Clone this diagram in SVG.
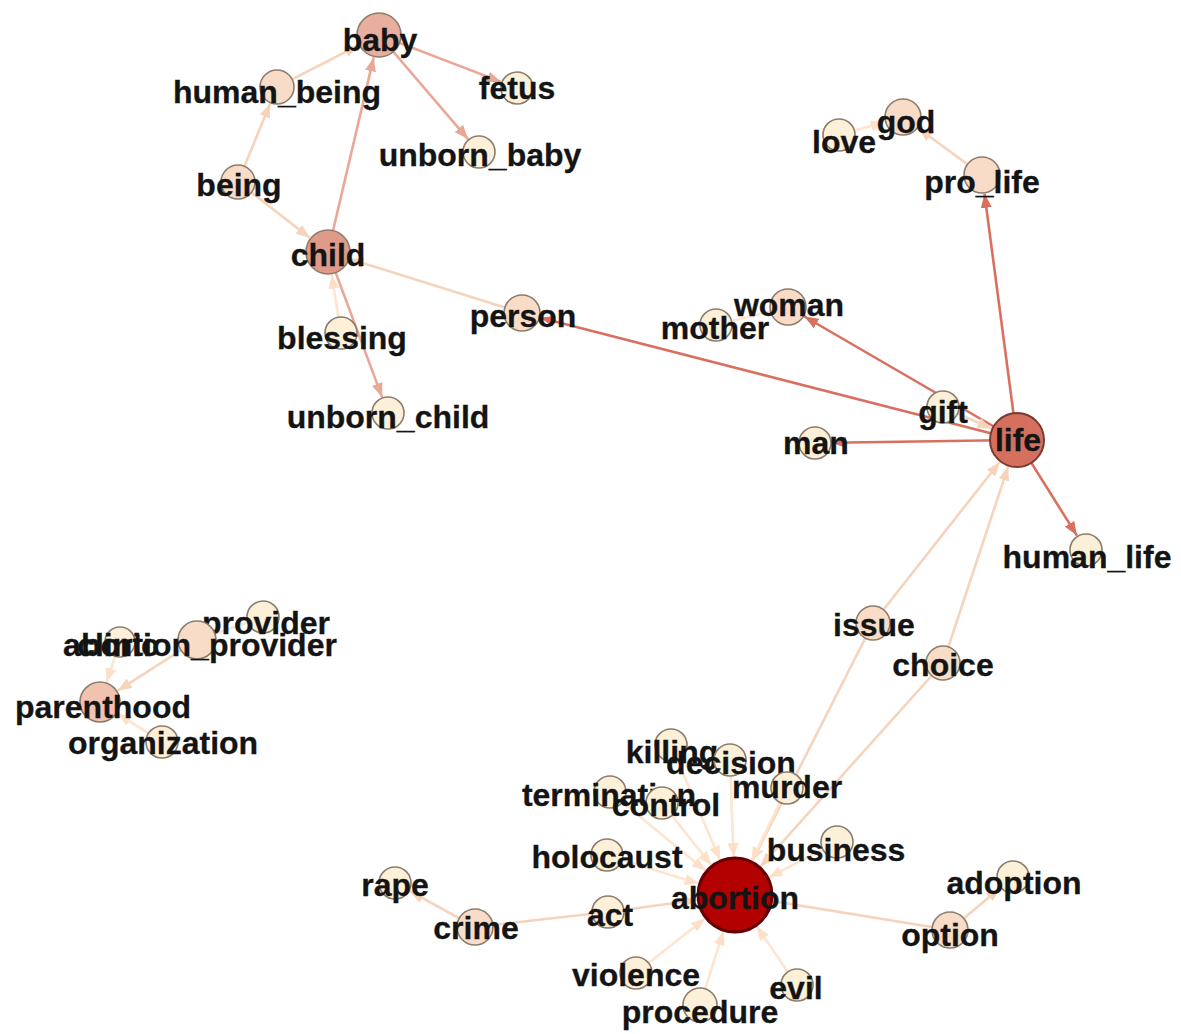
<svg xmlns="http://www.w3.org/2000/svg" width="1181" height="1034" viewBox="0 0 1181 1034">
<style>
.e{fill:none;stroke-width:2.6}
.red{stroke:#d9705f}
.sal{stroke:#e9a896}
.pch{stroke:#f6d4bc}
.lt{stroke:#fde5cf}
circle{stroke:#8c7c6c;stroke-width:1.6}
.c0{fill:#fdf0d8}
.c1{fill:#f8dcc8}
.c2{fill:#f0c2b0}
.c3{fill:#e8ae9e}
.c4{fill:#e09a8a}
text{font-family:"Liberation Sans",Arial,sans-serif;font-weight:bold;font-size:32px;fill:#141414;text-anchor:middle;stroke:#141414;stroke-width:0.3}
</style>
<defs>
<marker id="aRed" markerUnits="userSpaceOnUse" markerWidth="14" markerHeight="11" refX="14" refY="5.5" orient="auto"><path d="M0,0 L14,5.5 L0,11 z" fill="#d9705f"/></marker>
<marker id="aSal" markerUnits="userSpaceOnUse" markerWidth="14" markerHeight="11" refX="14" refY="5.5" orient="auto"><path d="M0,0 L14,5.5 L0,11 z" fill="#e9a896"/></marker>
<marker id="aPch" markerUnits="userSpaceOnUse" markerWidth="14" markerHeight="11" refX="14" refY="5.5" orient="auto"><path d="M0,0 L14,5.5 L0,11 z" fill="#f6d4bc"/></marker>
<marker id="aLt" markerUnits="userSpaceOnUse" markerWidth="14" markerHeight="11" refX="14" refY="5.5" orient="auto"><path d="M0,0 L14,5.5 L0,11 z" fill="#fde0c8"/></marker>
</defs>
<rect width="1181" height="1034" fill="#ffffff"/>
<g id="connectors">
<line class="e pch" x1="277" y1="87" x2="358.5" y2="45.4" marker-end="url(#aPch)"/>
<line class="e sal" x1="379" y1="35" x2="501.1" y2="81.9" marker-end="url(#aSal)"/>
<line class="e sal" x1="379" y1="35" x2="468" y2="139.1" marker-end="url(#aSal)"/>
<line class="e pch" x1="238" y1="182" x2="270.2" y2="103.6" marker-end="url(#aPch)"/>
<line class="e pch" x1="238" y1="182" x2="309.9" y2="237.9" marker-end="url(#aPch)"/>
<line class="e sal" x1="328" y1="252" x2="373.7" y2="57.4" marker-end="url(#aSal)"/>
<line class="e pch" x1="522" y1="313" x2="349.9" y2="258.9" marker-end="url(#aPch)"/>
<line class="e lt" x1="341" y1="333" x2="331.6" y2="274.7" marker-end="url(#aLt)"/>
<line class="e sal" x1="328" y1="252" x2="382.1" y2="397.1" marker-end="url(#aSal)"/>
<line class="e red" x1="1017" y1="440" x2="540.4" y2="317.7" marker-end="url(#aRed)"/>
<line class="e red" x1="1017" y1="440" x2="804.4" y2="316.5" marker-end="url(#aRed)"/>
<line class="e red" x1="1017" y1="440" x2="832" y2="442.7" marker-end="url(#aRed)"/>
<line class="e red" x1="1017" y1="440" x2="984.5" y2="193.8" marker-end="url(#aRed)"/>
<line class="e pch" x1="982" y1="175" x2="918.3" y2="128.2" marker-end="url(#aPch)"/>
<line class="e lt" x1="839" y1="135" x2="884.7" y2="122.1" marker-end="url(#aLt)"/>
<line class="e lt" x1="716" y1="325" x2="788" y2="307"/>
<line class="e pch" x1="943" y1="407" x2="991.4" y2="428.6" marker-end="url(#aPch)"/>
<line class="e red" x1="1017" y1="440" x2="1077" y2="535.6" marker-end="url(#aRed)"/>
<line class="e pch" x1="873" y1="623" x2="999.7" y2="462" marker-end="url(#aPch)"/>
<line class="e pch" x1="943" y1="663" x2="1008.2" y2="466.6" marker-end="url(#aPch)"/>
<line class="e pch" x1="873" y1="623" x2="752.2" y2="861.1" marker-end="url(#aPch)"/>
<line class="e pch" x1="943" y1="663" x2="760.4" y2="866.7" marker-end="url(#aPch)"/>
<line class="e lt" x1="671" y1="745" x2="720.1" y2="860" marker-end="url(#aLt)"/>
<line class="e lt" x1="730" y1="760" x2="733.6" y2="857" marker-end="url(#aLt)"/>
<line class="e lt" x1="787" y1="788" x2="751.6" y2="860.8" marker-end="url(#aLt)"/>
<line class="e lt" x1="610" y1="792" x2="705.7" y2="870.8" marker-end="url(#aLt)"/>
<line class="e lt" x1="662" y1="803" x2="711.4" y2="865.2" marker-end="url(#aLt)"/>
<line class="e lt" x1="607" y1="855" x2="698.7" y2="883.7" marker-end="url(#aLt)"/>
<line class="e lt" x1="837" y1="842" x2="768.7" y2="877.5" marker-end="url(#aLt)"/>
<line class="e pch" x1="608" y1="912" x2="697.3" y2="900" marker-end="url(#aPch)"/>
<line class="e pch" x1="475" y1="927" x2="608" y2="912"/>
<line class="e pch" x1="475" y1="927" x2="409.9" y2="891.2" marker-end="url(#aPch)"/>
<line class="e lt" x1="636" y1="973" x2="705.1" y2="918.5" marker-end="url(#aLt)"/>
<line class="e lt" x1="700" y1="1005" x2="723.5" y2="931.2" marker-end="url(#aLt)"/>
<line class="e lt" x1="797" y1="985" x2="756.5" y2="926.3" marker-end="url(#aLt)"/>
<line class="e pch" x1="735" y1="895" x2="950" y2="930"/>
<line class="e pch" x1="950" y1="930" x2="1000" y2="887.9" marker-end="url(#aPch)"/>
<line class="e lt" x1="120" y1="642" x2="106.6" y2="682.1" marker-end="url(#aLt)"/>
<line class="e pch" x1="197" y1="640" x2="117.7" y2="690.7" marker-end="url(#aPch)"/>
<line class="e lt" x1="162" y1="742" x2="117.6" y2="713.4" marker-end="url(#aLt)"/>
<line class="e lt" x1="263" y1="617" x2="197" y2="640"/>
</g>
<g id="node-fetus"><circle class="c0" cx="517" cy="88" r="16"/><text x="517" y="99">fetus</text></g>
<g id="node-unborn_baby"><circle class="c0" cx="479" cy="152" r="16"/><text x="480" y="166">unborn_baby</text></g>
<g id="node-human_being"><circle class="c1" cx="277" cy="87" r="17"/><text x="277" y="103">human_being</text></g>
<g id="node-baby"><circle class="c3" cx="379" cy="35" r="22"/><text x="380" y="51">baby</text></g>
<g id="node-being"><circle class="c1" cx="238" cy="182" r="17"/><text x="239" y="196">being</text></g>
<g id="node-child"><circle class="c4" cx="328" cy="252" r="22"/><text x="328" y="266">child</text></g>
<g id="node-blessing"><circle class="c0" cx="341" cy="333" r="16"/><text x="342" y="349">blessing</text></g>
<g id="node-unborn_child"><circle class="c0" cx="388" cy="413" r="16"/><text x="388" y="428">unborn_child</text></g>
<g id="node-person"><circle class="c1" cx="522" cy="313" r="18"/><text x="523" y="327">person</text></g>
<g id="node-mother"><circle class="c0" cx="716" cy="325" r="16"/><text x="715" y="339">mother</text></g>
<g id="node-woman"><circle class="c1" cx="788" cy="307" r="18"/><text x="789" y="316">woman</text></g>
<g id="node-love"><circle class="c0" cx="839" cy="135" r="16"/><text x="844" y="153">love</text></g>
<g id="node-god"><circle class="c1" cx="903" cy="117" r="18"/><text x="906" y="133">god</text></g>
<g id="node-pro_life"><circle class="c1" cx="982" cy="175" r="18"/><text x="982" y="193">pro_life</text></g>
<g id="node-man"><circle class="c0" cx="815" cy="443" r="16"/><text x="816" y="454">man</text></g>
<g id="node-gift"><circle class="c0" cx="943" cy="407" r="16"/><text x="943" y="423">gift</text></g>
<g id="node-life"><circle cx="1017" cy="440" r="27" style="fill:#d5705f;stroke:#7a3a30;stroke-width:2"/><text x="1018" y="451">life</text></g>
<g id="node-human_life"><circle class="c0" cx="1086" cy="550" r="16"/><text x="1087" y="568">human_life</text></g>
<g id="node-issue"><circle class="c1" cx="873" cy="623" r="17"/><text x="874" y="636">issue</text></g>
<g id="node-choice"><circle class="c1" cx="943" cy="663" r="17"/><text x="943" y="676">choice</text></g>
<g id="node-provider"><circle class="c0" cx="263" cy="617" r="16"/><text x="266" y="634">provider</text></g>
<g id="node-clinic"><circle class="c0" cx="120" cy="642" r="15"/><text x="118" y="656">clinic</text></g>
<g id="node-abortion_provider"><circle class="c1" cx="197" cy="640" r="19"/><text x="200" y="656">abortion_provider</text></g>
<g id="node-parenthood"><circle class="c2" cx="100" cy="702" r="20"/><text x="103" y="718">parenthood</text></g>
<g id="node-organization"><circle class="c0" cx="162" cy="742" r="16"/><text x="163" y="754">organization</text></g>
<g id="node-killing"><circle class="c0" cx="671" cy="745" r="16"/><text x="672" y="763">killing</text></g>
<g id="node-decision"><circle class="c0" cx="730" cy="760" r="16"/><text x="731" y="774">decision</text></g>
<g id="node-murder"><circle class="c0" cx="787" cy="788" r="16"/><text x="787" y="798">murder</text></g>
<g id="node-termination"><circle class="c0" cx="610" cy="792" r="16"/><text x="609" y="806">termination</text></g>
<g id="node-control"><circle class="c0" cx="662" cy="803" r="16"/><text x="666" y="816">control</text></g>
<g id="node-holocaust"><circle class="c0" cx="607" cy="855" r="16"/><text x="607" y="868">holocaust</text></g>
<g id="node-business"><circle class="c0" cx="837" cy="842" r="16"/><text x="836" y="861">business</text></g>
<g id="node-rape"><circle class="c0" cx="395" cy="883" r="16"/><text x="395" y="896">rape</text></g>
<g id="node-crime"><circle class="c1" cx="475" cy="927" r="18"/><text x="476" y="939">crime</text></g>
<g id="node-act"><circle class="c0" cx="608" cy="912" r="16"/><text x="610" y="926">act</text></g>
<g id="node-abortion"><circle cx="735" cy="895" r="37" style="fill:#b30000;stroke:#650000;stroke-width:3"/><text x="735" y="909">abortion</text></g>
<g id="node-violence"><circle class="c0" cx="636" cy="973" r="16"/><text x="636" y="986">violence</text></g>
<g id="node-procedure"><circle class="c0" cx="700" cy="1005" r="17"/><text x="700" y="1023">procedure</text></g>
<g id="node-evil"><circle class="c0" cx="797" cy="985" r="16"/><text x="796" y="999">evil</text></g>
<g id="node-adoption"><circle class="c0" cx="1013" cy="877" r="16"/><text x="1014" y="894">adoption</text></g>
<g id="node-option"><circle class="c1" cx="950" cy="930" r="18"/><text x="950" y="946">option</text></g>
</svg>
